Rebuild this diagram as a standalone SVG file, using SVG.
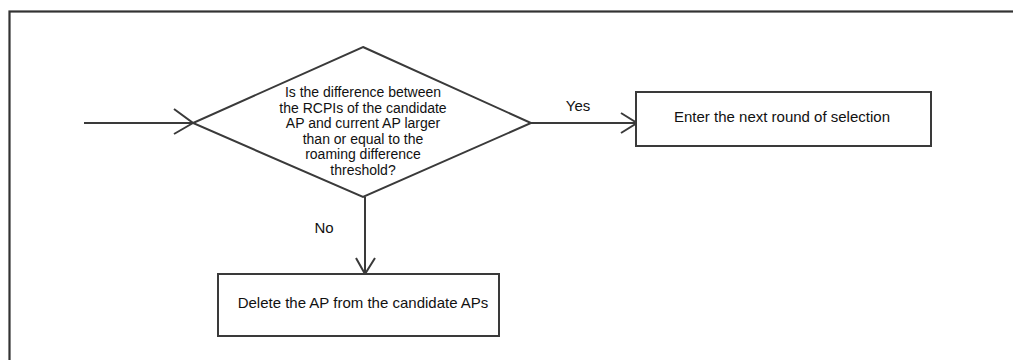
<svg xmlns="http://www.w3.org/2000/svg" width="1013" height="360" viewBox="0 0 1013 360">
  <style>
    .shape { fill: #ffffff; stroke: #3a3a3a; stroke-width: 2; }
    .frame { fill: none; stroke: #333333; stroke-width: 2.2; }
    .edge { fill: none; stroke: #3a3a3a; stroke-width: 2; }
    .head { fill: none; stroke: #3a3a3a; stroke-width: 2; stroke-linejoin: miter; }
    text { font-family: "Liberation Sans", Arial, sans-serif; font-size: 15px; fill: #111111; text-anchor: middle; }
    .q { font-size: 14px; }
  </style>
  <rect x="0" y="0" width="1013" height="360" fill="#ffffff"/>

  <!-- outer frame running off the right and bottom edges -->
  <rect class="frame" x="9.5" y="11.5" width="1020" height="360"/>

  <!-- connectors -->
  <g id="connectors">
    <line class="edge" x1="84" y1="123" x2="193" y2="123"/>
    <polyline class="head" points="174,109 193,123 174,134"/>

    <line class="edge" x1="531" y1="123" x2="637" y2="123"/>
    <polyline class="head" points="621,113 637,123 621,133"/>
    <text x="578" y="111">Yes</text>

    <line class="edge" x1="365" y1="197" x2="365" y2="274"/>
    <polyline class="head" points="356,258 365,274 375,258"/>
    <text x="324" y="233">No</text>
  </g>

  <!-- decision -->
  <g id="decision">
    <polygon class="shape" points="363,47 531,123 363,197 193,123"/>
    <text class="q" x="363" y="97">Is the difference between</text>
    <text class="q" x="363" y="112.6">the RCPIs of the candidate</text>
    <text class="q" x="363" y="128.2">AP and current AP larger</text>
    <text class="q" x="363" y="143.8">than or equal to the</text>
    <text class="q" x="363" y="159.4">roaming difference</text>
    <text class="q" x="363" y="175">threshold?</text>
  </g>

  <!-- yes branch -->
  <g id="next-round">
    <rect class="shape" x="636" y="92" width="295" height="54"/>
    <text x="782" y="122">Enter the next round of selection</text>
  </g>

  <!-- no branch -->
  <g id="delete-ap">
    <rect class="shape" x="218" y="274" width="281" height="62"/>
    <text x="363" y="308">Delete the AP from the candidate APs</text>
  </g>
</svg>
